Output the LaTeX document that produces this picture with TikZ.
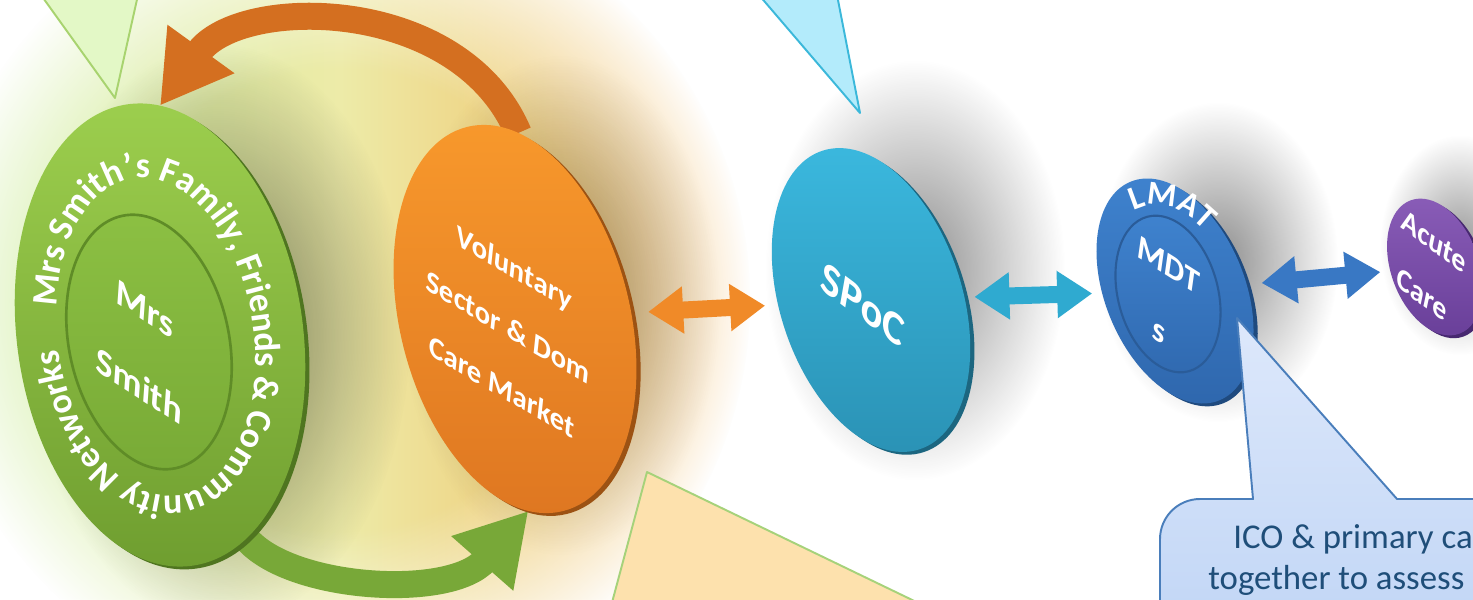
\documentclass[tikz,border=0pt]{standalone}
\usepackage{fontspec}
\setmainfont{Carlito}
\usetikzlibrary{shapes.geometric, arrows.meta, positioning, fadings, decorations.text}
\definecolor{famTop}{HTML}{9DCF4E}
\definecolor{famBot}{HTML}{6E9D2F}
\definecolor{famRim}{HTML}{4F7520}
\definecolor{famCore}{HTML}{8CC043}
\definecolor{famCoreBot}{HTML}{78AA36}
\definecolor{famEdge}{HTML}{5F8C27}
\definecolor{volTop}{HTML}{F8992C}
\definecolor{volBot}{HTML}{DE7621}
\definecolor{volRim}{HTML}{9C5213}
\definecolor{spocTop}{HTML}{3BB9DF}
\definecolor{spocBot}{HTML}{2A91B4}
\definecolor{spocRim}{HTML}{1C6680}
\definecolor{lmatTop}{HTML}{3F83CF}
\definecolor{lmatBot}{HTML}{2E66AC}
\definecolor{lmatRim}{HTML}{1F4A7E}
\definecolor{lmatEdge}{HTML}{2A5C99}
\definecolor{acuteTop}{HTML}{8A5DB8}
\definecolor{acuteBot}{HTML}{683E98}
\definecolor{acuteRim}{HTML}{472870}
\definecolor{glowGreen}{HTML}{C8EE9C}
\definecolor{glowYellow}{HTML}{EDEBA8}
\definecolor{glowOrange}{HTML}{F2AE4C}
\definecolor{arrOrange}{HTML}{D46F20}
\definecolor{arrGreen}{HTML}{78A838}
\definecolor{linkOrange}{HTML}{F08A28}
\definecolor{linkCyan}{HTML}{2FAAD0}
\definecolor{linkBlue}{HTML}{3978C4}
\definecolor{noteGreen}{HTML}{E3F8C6}
\definecolor{noteGreenEdge}{HTML}{A8D36F}
\definecolor{noteCyan}{HTML}{B3EBFB}
\definecolor{noteCyanEdge}{HTML}{3BB8DA}
\definecolor{notePeach}{HTML}{FDE1AD}
\definecolor{notePeachEdge}{HTML}{A6D27A}
\definecolor{noteBlueTop}{HTML}{DDE8FB}
\definecolor{noteBlueBot}{HTML}{C3D7F6}
\definecolor{noteBlueEdge}{HTML}{4A7EBB}
\definecolor{noteText}{HTML}{1F4E79}

\pgfdeclareradialshading{glowshade}{\pgfpointorigin}{color(0bp)=(white); color(14bp)=(white); color(25bp)=(black); color(50bp)=(black)}
\pgfdeclarefading{glowfade}{\pgfuseshading{glowshade}}
\tikzfading[name=softedge, inner color=transparent!0, outer color=transparent!100]

\pgfdeclarelayer{glowlayer}
\pgfdeclarelayer{linklayer}
\pgfsetlayers{glowlayer,linklayer,main}

\begin{document}
\begin{tikzpicture}[x=0.02cm, y=-0.02cm,
    disc/.style={ellipse, inner sep=0pt, outer sep=0pt},
    rim/.style={preaction={fill=#1, transform canvas={shift={(2.4pt,-1.6pt)}}}},
    softshadow/.style={fill=black, fill opacity=#1, path fading=softedge},
    lbl/.style={text=white, font=\bfseries, align=center, inner sep=0pt},
    loopArrow/.style={-{Triangle[length=1.4cm, width=1.55cm]}, line width=0.54cm},
    dbl/.style={{Triangle[length=0.7cm, width=0.9cm]}-{Triangle[length=0.7cm, width=0.9cm]}, line width=0.34cm},
    wedge/.style={line width=1.1pt, line join=round},
]
\useasboundingbox (0,0) rectangle (1473,599);
\clip (0,0) rectangle (1473,599);

% glow and soft shadows
\begin{pgfonlayer}{glowlayer}
\fill[white] (0,0) rectangle (1473,599);
\shade[left color=glowGreen, right color=glowOrange, middle color=glowYellow, path fading=glowfade] (340,300) circle (410);
\fill[softshadow=0.5] (220,335) ellipse [x radius=190, y radius=290];
\fill[softshadow=0.35] (560,305) ellipse [x radius=160, y radius=250];
\fill[softshadow=0.45] (915,270) ellipse [x radius=150, y radius=210];
\fill[softshadow=0.45] (1218,262) ellipse [x radius=120, y radius=160];
\fill[softshadow=0.4] (1460,245) ellipse [x radius=80, y radius=110];
\end{pgfonlayer}

% discs
\node[disc, minimum width=5.72cm, minimum height=9.32cm, rotate=8, top color=famTop, bottom color=famBot, rim=famRim] (family) at (160,335) {};
\node[disc, minimum width=3.2cm, minimum height=5.16cm, rotate=12, top color=famCore, bottom color=famCoreBot, draw=famEdge, line width=1.5pt] (mrsSmith) at (149,342) {};
\node[disc, minimum width=4.6cm, minimum height=7.92cm, rotate=14, top color=volTop, bottom color=volBot, rim=volRim] (voluntary) at (515,319) {};
\node[disc, minimum width=3.64cm, minimum height=6.28cm, rotate=18, top color=spocTop, bottom color=spocBot, rim=spocRim] (spoc) at (871,300) {};
\node[disc, minimum width=2.8cm, minimum height=4.72cm, rotate=22, top color=lmatTop, bottom color=lmatBot, rim=lmatRim] (lmat) at (1175,291) {};
\node[disc, minimum width=2cm, minimum height=3.2cm, rotate=15, top color=lmatTop, bottom color=lmatBot!90!lmatTop, draw=lmatEdge, line width=1.2pt] (lmatCore) at (1168,294) {};
\node[disc, minimum width=1.76cm, minimum height=2.84cm, rotate=20, top color=acuteTop, bottom color=acuteBot, rim=acuteRim] (acute) at (1435,267) {};

% curved arrows behind the discs
\begin{pgfonlayer}{linklayer}
\draw[loopArrow, arrOrange] (voluntary.75) .. controls (460,-5) and (240,-5) .. (family.82);
\draw[loopArrow, arrGreen] (family.-75) .. controls (290,590) and (450,600) .. (voluntary.-100);
\end{pgfonlayer}

% labels
\node[lbl, font=\bfseries\fontsize{21}{44}\selectfont, rotate=-4, yslant=-0.55] (mrsLabel) at (142,348) {Mrs\\Smith};
\node[lbl, font=\bfseries\fontsize{17}{34}\selectfont, rotate=-6, yslant=-0.45] (volLabel) at (508,327) {Voluntary\\Sector \& Dom\\Care Market};
\node[lbl, font=\bfseries\fontsize{25}{30}\selectfont, rotate=-10, yslant=-0.5] (spocLabel) at (863,305) {SPoC};
\node[lbl, font=\bfseries\fontsize{19}{38}\selectfont, rotate=-8, yslant=-0.45] (mdtLabel) at (1164,298) {MDT\\s};
\node[lbl, font=\bfseries\fontsize{17}{31}\selectfont, rotate=-12, yslant=-0.45] (acuteLabel) at (1428,268) {Acute\\Care};

\begin{scope}[shift={(156,337)}, rotate=8]
\path[decorate, decoration={text along path, text align=fit to path, text color=white,
    text={|\bfseries\fontsize{20.5}{22}\selectfont|Mrs Smith’s Family, Friends {\&} Community Networks}}]
  (196:98 and 160) arc[start angle=196, end angle=540, x radius=98, y radius=160];
\end{scope}
\begin{scope}[shift={(1172,292)}, rotate=22]
\path[decorate, decoration={text along path, text align=center, text color=white,
    text={|\bfseries\fontsize{19}{20}\selectfont|LMAT}}]
  (215:62 and 90) arc[start angle=215, end angle=370, x radius=62, y radius=90];
\end{scope}

% links
\draw[dbl, linkOrange, shorten <=0.34cm, shorten >=0.26cm] (voluntary) -- (spoc);
\draw[dbl, linkCyan, shorten <=0.2cm, shorten >=0.2cm] (spoc) -- (lmat);
\draw[dbl, linkBlue, shorten <=0.3cm, shorten >=0.2cm] (lmat) -- (acute);

% callouts
\draw[wedge, fill=noteGreen, draw=noteGreenEdge] (41,-5) -- (115,98) -- (138,-5);
\draw[wedge, fill=noteCyan, draw=noteCyanEdge] (759,-5) -- (860,113) -- (837,-5);
\draw[wedge, fill=notePeach, draw=notePeachEdge] (647,472) -- (610,610) -- (933,610) -- cycle;
\draw[wedge, top color=noteBlueTop, bottom color=noteBlueBot, draw=noteBlueEdge]
  (1253,499) -- (1237,318) -- (1397,499) -- (1490,499) -- (1490,615) -- (1160,615)
  -- (1160,539) arc[start angle=180, end angle=270, radius=40] -- cycle;
\node[font=\fontsize{19.8}{24}\selectfont, text=noteText, anchor=base west, inner sep=0pt] (icoLine) at (1233,548) {ICO \& primary ca};
\node[font=\fontsize{19.8}{24}\selectfont, text=noteText, anchor=base west, inner sep=0pt] (assessLine) at (1208,589) {together to assess};
\end{tikzpicture}
\end{document}
